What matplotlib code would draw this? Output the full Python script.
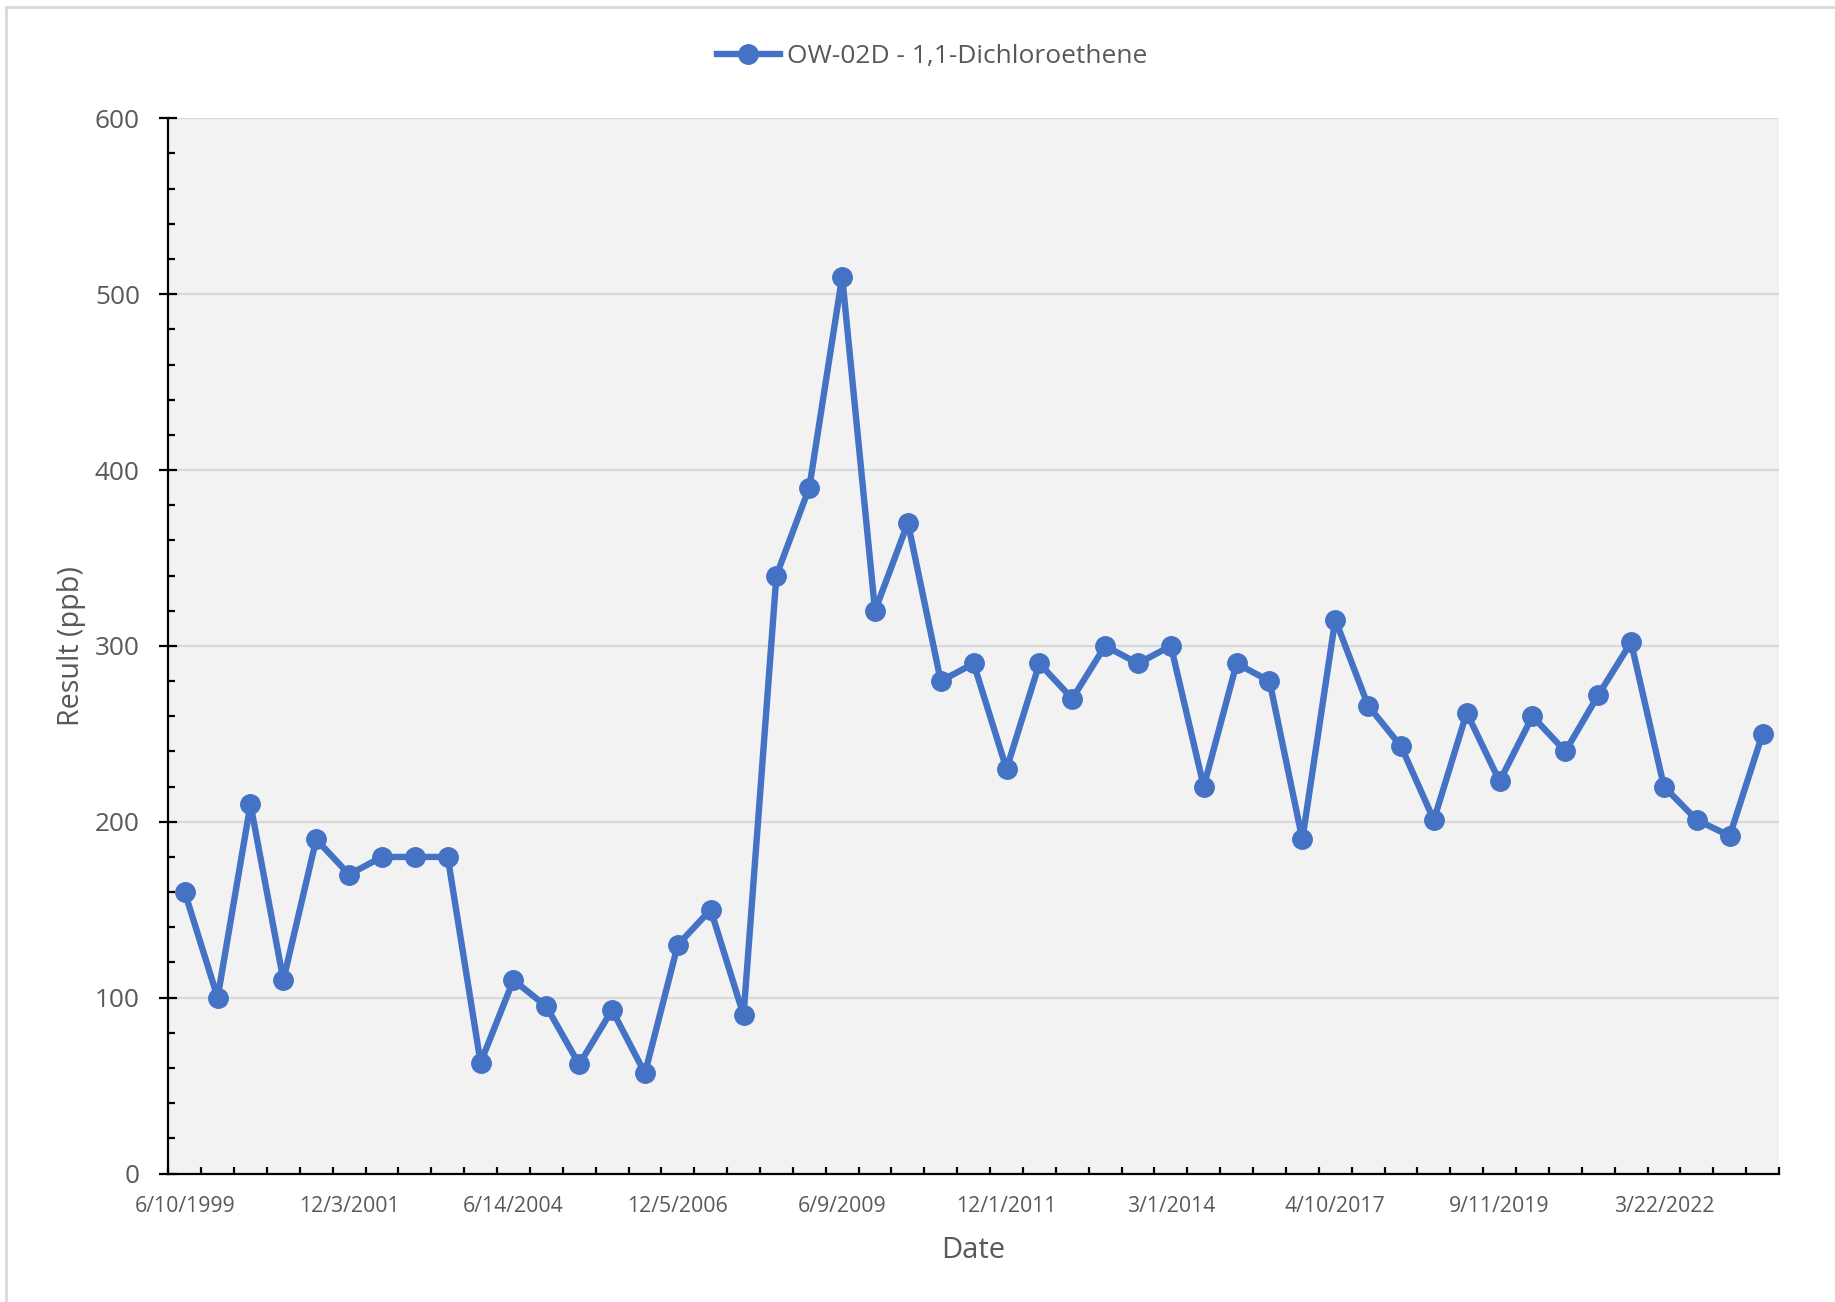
import matplotlib
matplotlib.use("Agg")
import matplotlib.pyplot as plt
from matplotlib.lines import Line2D
from matplotlib.ticker import MultipleLocator, FixedLocator, NullFormatter

# ---- data ----
series_name = "OW-02D - 1,1-Dichloroethene"
results_ppb = [160, 100, 210, 110, 190, 170, 180, 180, 180, 63,
               110, 95, 62, 93, 57, 130, 150, 90, 340, 390,
               510, 320, 370, 280, 290, 230, 290, 270, 300, 290,
               300, 220, 290, 280, 190, 315, 266, 243, 201, 262,
               223, 260, 240, 272, 302, 220, 201, 192, 250]
tick_labels = ["6/10/1999", "12/3/2001", "6/14/2004", "12/5/2006", "6/9/2009",
               "12/1/2011", "3/1/2014", "4/10/2017", "9/11/2019", "3/22/2022"]
label_every = 5
x_title = "Date"
y_title = "Result (ppb)"

plt.rcParams['font.family'] = ['Open Sans', 'DejaVu Sans']

W, H, DPI = 1835, 1302, 100
fig = plt.figure(figsize=(W / DPI, H / DPI), dpi=DPI)
fig.patch.set_facecolor("white")

L, R, T, B = 168.3, 1779, 118.3, 1173.5
ax = fig.add_axes([L / W, 1 - B / H, (R - L) / W, (B - T) / H])
ax.set_facecolor("#F2F2F2")

n = len(results_ppb)
xs = [i + 0.5 for i in range(n)]
blue = "#4472C4"
ax.plot(xs, results_ppb, color=blue, lw=4.6, marker="o", ms=14,
        mec=blue, mfc=blue, solid_joinstyle="round", label=series_name,
        zorder=3, clip_on=False)

ax.set_xlim(0, n)
ax.set_ylim(0, 600)

# gridlines
ax.yaxis.set_major_locator(MultipleLocator(100))
ax.yaxis.set_minor_locator(MultipleLocator(20))
ax.grid(axis="y", which="major", color="#D9D9D9", lw=1.6, zorder=1)
ax.set_axisbelow(True)

# spines
for s in ["top", "right"]:
    ax.spines[s].set_visible(False)
for s in ["left", "bottom"]:
    ax.spines[s].set_color("black")
    ax.spines[s].set_linewidth(1.6)
    ax.spines[s].set_zorder(4)

grey = "#595959"
ax.tick_params(axis="y", which="major", direction="inout", length=13, width=1.6,
               color="black", labelsize=18.8, labelcolor=grey, pad=14)
ax.tick_params(axis="y", which="minor", direction="in", length=5, width=1.6,
               color="black")

# x axis: ticks at category boundaries, labels every 5 categories
ax.xaxis.set_minor_locator(FixedLocator(list(range(n + 1))))
ax.xaxis.set_minor_formatter(NullFormatter())
label_pos = [i + 0.5 for i in range(0, n, label_every)][:len(tick_labels)]
ax.set_xticks(label_pos)
ax.set_xticklabels(tick_labels)
ax.tick_params(axis="x", which="major", length=0, labelsize=15.3,
               labelcolor=grey, pad=16)
ax.tick_params(axis="x", which="minor", direction="in", length=5, width=1.6,
               color="black")

ax.set_xlabel(x_title, fontsize=21, color=grey, labelpad=14)
ax.set_ylabel(y_title, fontsize=20.6, color=grey, labelpad=6.5)

leg = fig.legend(loc="center", bbox_to_anchor=(932 / W, 1 - 57 / H), frameon=False,
                 fontsize=19, handlelength=2.4, handletextpad=0.27,
                 labelcolor=grey)

# chart outer border (top and left visible)
bc = "#D9D9D9"
fig.add_artist(Line2D([6 / W, 1.0], [1 - 7 / H, 1 - 7 / H], color=bc, lw=2,
                      transform=fig.transFigure))
fig.add_artist(Line2D([6 / W, 6 / W], [0.0, 1 - 7 / H], color=bc, lw=2,
                      transform=fig.transFigure))

fig.savefig("out.png", dpi=DPI, facecolor="white")
